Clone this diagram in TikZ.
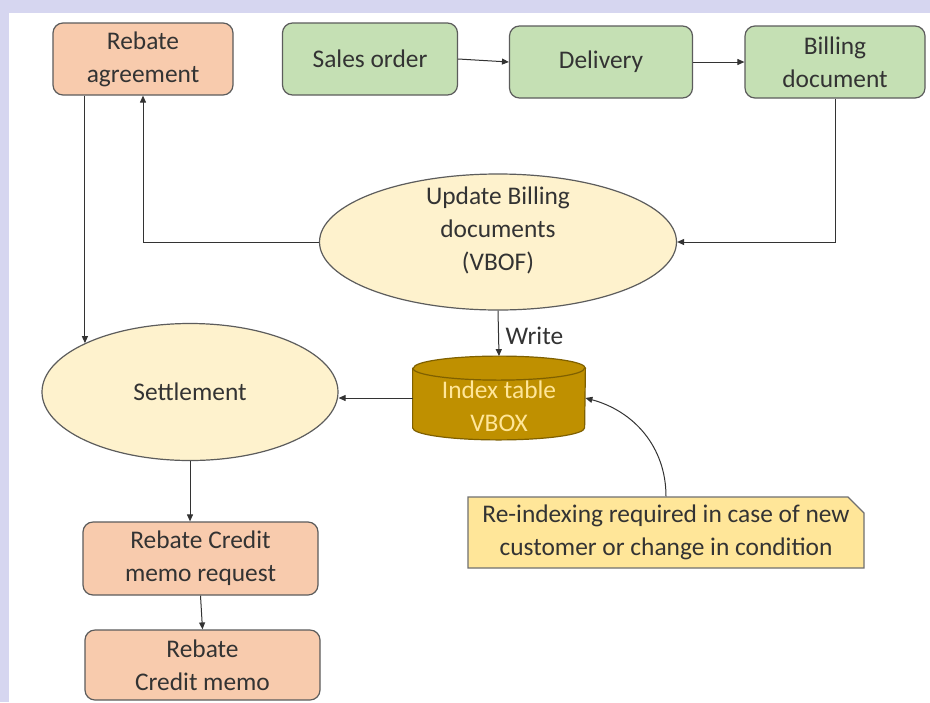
\documentclass[tikz,border=0pt]{standalone}
\usepackage{fontspec}
\setmainfont{Carlito}
\usetikzlibrary{arrows.meta,shapes.geometric,shapes.misc}
\definecolor{lavender}{HTML}{D6D6F0}
\definecolor{peach}{HTML}{F8CBAD}
\definecolor{leaf}{HTML}{C5E0B4}
\definecolor{cream}{HTML}{FEF2CD}
\definecolor{gold}{HTML}{BF9000}
\definecolor{goldedge}{HTML}{7F6000}
\definecolor{paleyellow}{HTML}{FFE699}
\definecolor{ink}{HTML}{333333}

\begin{document}
\begin{tikzpicture}[x=0.5pt,y=-0.5pt,
        font=\fontsize{12.7}{16.5}\selectfont,text=ink,
        box/.style={draw=ink!80,line width=0.6pt,rounded corners=5pt,align=center,minimum width=90pt,minimum height=36pt,inner sep=2pt},
        oval/.style={ellipse,draw=ink!80,fill=cream,line width=0.6pt,align=center,inner sep=0pt},
        arr/.style={draw=ink,line width=0.5pt,-{Triangle[length=3.5pt,width=3pt]}}]
        \fill[lavender] (0,0) rectangle (930,702);
        \fill[white] (9,13) rectangle (930,702);
        \node[box,fill=peach] (agreement) at (143,59) {Rebate\\agreement};
        \node[box,fill=leaf,minimum width=87.5pt] (salesorder) at (370,59) {Sales order};
        \node[box,fill=leaf,minimum width=91.5pt] (delivery) at (601,62) {Delivery};
        \node[box,fill=leaf] (billing) at (835,62) {Billing\\document};
        \node[oval,minimum width=178.5pt,minimum height=68pt,label={[align=center,yshift=6pt]center:Update Billing\\documents\\(VBOF)}] (update) at (498,242) {};
        \node[oval,minimum width=148pt,minimum height=68.5pt] (settlement) at (190,392) {Settlement};
        \node[minimum width=86pt,minimum height=41.5pt,inner sep=0pt] (vbox) at (499,398) {};
        \filldraw[fill=gold,draw=goldedge,line width=0.6pt] ([yshift=-6pt]vbox.north west) -- ([yshift=6pt]vbox.south west)
            arc[start angle=180,end angle=360,x radius=43pt,y radius=6pt] -- ([yshift=-6pt]vbox.north east)
            arc[start angle=0,end angle=180,x radius=43pt,y radius=6pt] -- cycle;
        \draw[goldedge,line width=0.6pt] ([yshift=-6pt]vbox.north west) arc[start angle=180,end angle=360,x radius=43pt,y radius=6pt];
        \node[align=center,text=paleyellow] (vboxtext) at ([yshift=-4pt]vbox.center) {Index table\\VBOX};
        \node[chamfered rectangle,chamfered rectangle corners=north east,chamfered rectangle sep=4pt,draw=ink!70,fill=paleyellow,line width=0.6pt,align=center,minimum width=198pt,minimum height=35.5pt,inner sep=0pt] (reindex) at (666,532.5) {Re-indexing required in case of new\\customer or change in condition};
        \node[box,fill=peach,minimum width=117.5pt,minimum height=36.5pt] (request) at (200.5,558.5) {Rebate Credit\\memo request};
        \node[box,fill=peach,minimum width=117.5pt,minimum height=35pt] (memo) at (202.5,665) {Rebate\\Credit memo};
        \draw[arr] (salesorder.east) -- (delivery.west);
        \draw[arr] (delivery.east) -- (billing.west);
        \draw[arr] (billing.south) |- (update.east);
        \draw[arr] (update.west) -| (agreement.south);
        \draw[arr] (agreement.south -| settlement.north west) -- (settlement.north west);
        \draw[arr] (update.south) -- (vbox.north) node[pos=0.55,right]{Write};
        \draw[arr] (vbox.west) -- (vbox.west -| settlement.east);
        \draw[arr] (reindex.north) to[out=90,in=-15] (vbox.east);
        \draw[arr] (settlement.south) -- (settlement.south |- request.north);
        \draw[arr] (request.south) -- (memo.north);
\end{tikzpicture}
\end{document}
